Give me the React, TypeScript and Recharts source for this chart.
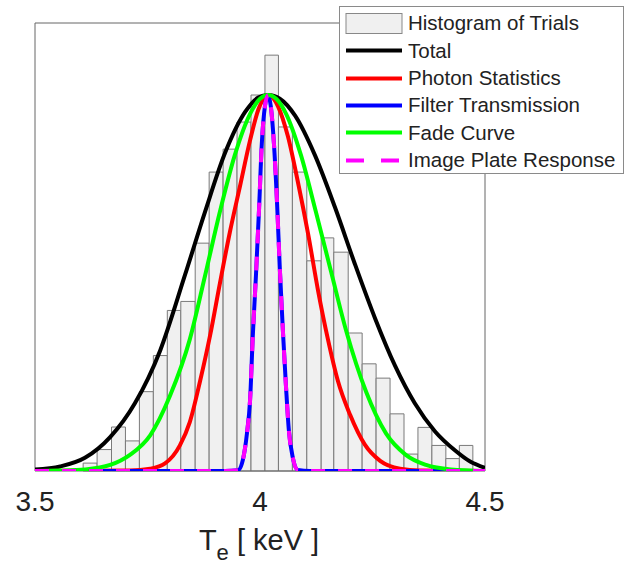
import { ComposedChart, Line, XAxis, YAxis, ReferenceArea, Legend } from "recharts";

const FONT = "'Liberation Sans', Arial, Helvetica, sans-serif";

// histogram of trials (bin edges in keV, heights normalised to curve peak)
const histEdges = [
  3.607, 3.638, 3.67, 3.701, 3.732, 3.763, 3.794, 3.824, 3.856, 3.887, 3.918, 3.949, 3.98, 4.011, 4.041,
  4.072, 4.104, 4.136, 4.164, 4.196, 4.227, 4.258, 4.289, 4.32, 4.351, 4.382, 4.413, 4.443, 4.473,
];
const histCounts = [
  0.021, 0.057, 0.117, 0.08, 0.211, 0.307, 0.427, 0.451, 0.606, 0.795, 0.856, 0.928, 1.0, 1.106,
  0.915, 0.795, 0.559, 0.62, 0.582, 0.367, 0.285, 0.247, 0.152, 0.045, 0.116, 0.068, 0.033, 0.068,
];

const totalX = [
  3.5, 3.556, 3.611, 3.667, 3.722, 3.778, 3.833, 3.878, 3.922, 3.967, 3.996, 4.018, 4.044, 4.078,
  4.122, 4.167, 4.211, 4.256, 4.3, 4.344, 4.389, 4.433, 4.467, 4.5,
];
const totalY = [
  0.004, 0.012, 0.035, 0.09, 0.18, 0.32, 0.52, 0.69, 0.845, 0.955, 0.993, 1, 0.99, 0.945, 0.84, 0.7,
  0.55, 0.405, 0.28, 0.18, 0.105, 0.055, 0.025, 0.008,
];

const photonX = [
  3.5, 3.711, 3.756, 3.789, 3.822, 3.844, 3.867, 3.889, 3.911, 3.933, 3.956, 3.978, 3.996, 4.018,
  4.04, 4.062, 4.084, 4.107, 4.129, 4.151, 4.173, 4.2, 4.233, 4.267, 4.311, 4.356, 4.5,
];
const photonY = [
  0, 0.001, 0.006, 0.02, 0.068, 0.13, 0.24, 0.36, 0.5, 0.635, 0.76, 0.88, 0.96, 1, 0.97, 0.89, 0.77,
  0.63, 0.48, 0.35, 0.24, 0.15, 0.07, 0.027, 0.006, 0.001, 0,
];

const filterX = [
  3.5, 3.922, 3.951, 3.962, 3.971, 3.978, 3.984, 3.991, 3.998, 4.004, 4.011, 4.018, 4.024, 4.031,
  4.038, 4.044, 4.051, 4.058, 4.064, 4.073, 4.084, 4.111, 4.5,
];
const filterY = [
  0, 0, 0.002, 0.03, 0.1, 0.19, 0.36, 0.52, 0.7, 0.87, 0.97, 1, 0.97, 0.87, 0.71, 0.54, 0.37, 0.22,
  0.11, 0.035, 0.003, 0, 0,
];

const fadeX = [
  3.5, 3.556, 3.611, 3.667, 3.711, 3.756, 3.8, 3.844, 3.878, 3.911, 3.944, 3.978, 4.0, 4.018, 4.036,
  4.058, 4.091, 4.124, 4.158, 4.191, 4.236, 4.28, 4.324, 4.369, 4.424, 4.5,
];
const fadeY = [
  0, 0.001, 0.004, 0.016, 0.043, 0.095, 0.2, 0.35, 0.52, 0.69, 0.84, 0.95, 0.99, 1, 0.99, 0.95, 0.84,
  0.69, 0.53, 0.375, 0.21, 0.1, 0.043, 0.016, 0.004, 0,
];

const plateX = filterX;
const plateY = [
  0, 0, 0.002, 0.03, 0.1, 0.19, 0.36, 0.52, 0.7, 0.87, 0.97, 1, 0.97, 0.87, 0.71, 0.54, 0.37, 0.22,
  0.11, 0.035, 0.003, 0, 0,
];

const xTicks = [3.5, 4, 4.5];
const yMax = 1.1915;

const toRows = (xs: number[], ys: number[]) => xs.map((x, i) => ({ x, y: ys[i] }));

const legendItems = [
  { label: "Histogram of Trials", kind: "patch", color: "#f0f0f0" },
  { label: "Total", kind: "line", color: "#000000" },
  { label: "Photon Statistics", kind: "line", color: "#ff0000" },
  { label: "Filter Transmission", kind: "line", color: "#0000ff" },
  { label: "Fade Curve", kind: "line", color: "#00ff00" },
  { label: "Image Plate Response", kind: "dash", color: "#ff00ff" },
];

const LegendBox = () => (
  <div
    style={{
      background: "#fff",
      border: "1px solid #8a8a8a",
      padding: "3px 0 0 0",
      fontFamily: FONT,
      fontSize: 20.5,
      color: "#222",
      boxSizing: "border-box",
      width: 285,
      height: 168,
    }}
  >
    {legendItems.map((it) => (
      <div key={it.label} style={{ display: "flex", alignItems: "center", height: 27.3 }}>
        <svg width={68} height={27} style={{ flex: "none" }}>
          {it.kind === "patch" && (
            <rect x={6} y={3.5} width={56} height={20} fill={it.color} stroke="#888" strokeWidth={1} />
          )}
          {it.kind === "line" && <line x1={6} x2={62} y1={13.5} y2={13.5} stroke={it.color} strokeWidth={4} />}
          {it.kind === "dash" && (
            <line x1={6} x2={62} y1={13.5} y2={13.5} stroke={it.color} strokeWidth={4} strokeDasharray="18 17" />
          )}
        </svg>
        <span style={{ whiteSpace: "nowrap", lineHeight: 1 }}>{it.label}</span>
      </div>
    ))}
  </div>
);

const XLabel = (props: any) => {
  const vb = props.viewBox || { x: 35, y: 471, width: 450 };
  const cx = vb.x + vb.width / 2 - 1;
  return (
    <text x={cx} y={vb.y + 79} textAnchor="middle" fontFamily={FONT} fontSize={29} fill="#222">
      <tspan>T</tspan>
      <tspan dy={10} fontSize={22}>
        e
      </tspan>
      <tspan dy={-10}> [ keV ]</tspan>
    </text>
  );
};

export default function App() {
  return (
    <div style={{ position: "absolute", left: 0, top: 0, width: 629, height: 567, background: "#fff" }}>
      <ComposedChart width={629} height={567} margin={{ top: 23, right: 144, bottom: 0, left: 35 }}>
        <XAxis
          dataKey="x"
          type="number"
          domain={[3.5, 4.5]}
          ticks={xTicks}
          allowDataOverflow
          height={96}
          axisLine={false}
          tickLine={false}
          tickSize={0}
          tickMargin={20}
          tickFormatter={(v: number) => String(v)}
          tick={{ fontSize: 28, fill: "#222", fontFamily: FONT }}
          label={<XLabel />}
        />
        <XAxis
          xAxisId="top"
          orientation="top"
          type="number"
          domain={[3.5, 4.5]}
          ticks={xTicks}
          height={0}
          mirror
          axisLine={false}
          tick={false}
          tickSize={5}
          stroke="#555"
        />
        <YAxis hide type="number" domain={[0, yMax]} allowDataOverflow width={0} />
        {histCounts.map((c, i) => (
          <ReferenceArea
            key={`bin-${i}`}
            x1={histEdges[i]}
            x2={histEdges[i + 1]}
            y1={0}
            y2={c}
            fill="#f0f0f0"
            fillOpacity={1}
            stroke="#7a7a7a"
            strokeWidth={1}
          />
        ))}
        <ReferenceArea x1={3.5} x2={4.5} y1={0} y2={yMax} fill="none" stroke="#666" strokeWidth={1} />
        <Line data={toRows(totalX, totalY)} dataKey="y" type="monotone" stroke="#000" strokeWidth={4} dot={false} isAnimationActive={false} name="Total" />
        <Line data={toRows(photonX, photonY)} dataKey="y" type="monotone" stroke="#ff0000" strokeWidth={4} dot={false} isAnimationActive={false} name="Photon Statistics" />
        <Line data={toRows(filterX, filterY)} dataKey="y" type="monotone" stroke="#0000ff" strokeWidth={4} dot={false} isAnimationActive={false} name="Filter Transmission" />
        <Line data={toRows(fadeX, fadeY)} dataKey="y" type="monotone" stroke="#00ff00" strokeWidth={4} dot={false} isAnimationActive={false} name="Fade Curve" />
        <Line data={toRows(plateX, plateY)} dataKey="y" type="monotone" stroke="#ff00ff" strokeWidth={4} strokeDasharray="14 13" dot={false} isAnimationActive={false} name="Image Plate Response" />
        <Legend
          layout="horizontal"
          verticalAlign="middle"
          align="center"
          content={() => <LegendBox />}
          wrapperStyle={{ left: 339, top: 6, width: 285, height: 168 }}
        />
      </ComposedChart>
    </div>
  );
}
